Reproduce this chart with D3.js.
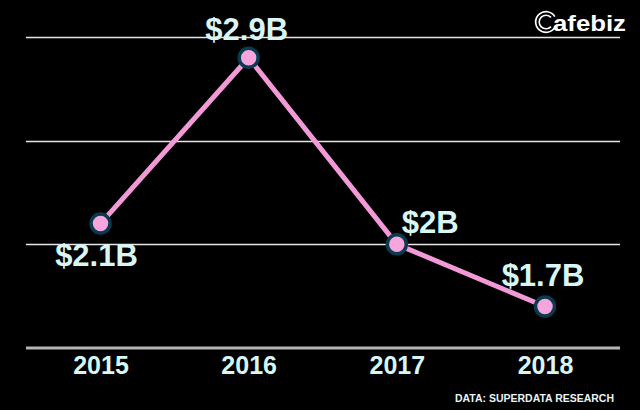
<!DOCTYPE html>
<html><head><meta charset="utf-8">
<script src="https://cdn.jsdelivr.net/npm/d3@7"></script>
<style>html,body{margin:0;padding:0;background:#000;}svg{display:block;}</style>
</head><body>
<script>
const years = ["2015","2016","2017","2018"];
const revenue = [2.1, 2.9, 2.0, 1.7];
const valueLabels = ["$2.1B","$2.9B","$2B","$1.7B"];
const gridTicks = [2.0, 2.5, 3.0];
const source = "DATA: SUPERDATA RESEARCH";
const brand = "afebiz";

const W = 640, H = 410;
const svg = d3.select("body").append("svg").attr("width", W).attr("height", H)
  .style("background", "#000");
svg.append("rect").attr("width", W).attr("height", H).attr("fill", "#000");

const x = d3.scalePoint().domain(years).range([100.5, 545]);
const y = d3.scaleLinear().domain([1.5, 3.0]).range([348, 37]);
const left = 26, right = 620;
const textColor = "#d8f6f6";
const font = "'Liberation Sans', Arial, sans-serif";

// gridlines
svg.append("g").selectAll("line").data(gridTicks).join("line")
  .attr("x1", left).attr("x2", right)
  .attr("y1", d => Math.round(y(d)) + 0.5).attr("y2", d => Math.round(y(d)) + 0.5)
  .attr("stroke", "#e6e6e6").attr("stroke-width", 1.3);

// baseline axis
const xAxis = d3.axisBottom(x).tickSize(0).tickPadding(0);
const gx = svg.append("g").attr("transform", `translate(0,${y(1.5)})`).call(xAxis);
gx.select(".domain").remove();
gx.append("line").attr("x1", left).attr("x2", right).attr("y1", 0).attr("y2", 0)
  .attr("stroke", "#b5b5b5").attr("stroke-width", 3);
gx.selectAll(".tick text")
  .attr("y", 26).attr("dy", null)
  .attr("fill", textColor).attr("font-family", font)
  .attr("font-weight", "bold").attr("font-size", 25);

// line
const data = years.map((yr, i) => ({yr, v: revenue[i], label: valueLabels[i]}));
svg.append("path").datum(data)
  .attr("d", d3.line().x(d => x(d.yr)).y(d => y(d.v)))
  .attr("fill", "none").attr("stroke", "#f29ad7").attr("stroke-width", 5)
  .attr("stroke-linejoin", "round");

// points
svg.append("g").selectAll("circle").data(data).join("circle")
  .attr("cx", d => x(d.yr)).attr("cy", d => y(d.v)).attr("r", 9.5)
  .attr("fill", "#f6a5dd").attr("stroke", "#0b3a4e").attr("stroke-width", 3.5);

// value labels
const offsets = [
  {dx: -4, dy: 42, anchor: "middle"},
  {dx: -2, dy: -18, anchor: "middle"},
  {dx: 5, dy: -11, anchor: "start"},
  {dx: -2, dy: -21, anchor: "middle"}
];
svg.append("g").selectAll("text").data(data).join("text")
  .attr("x", (d, i) => x(d.yr) + offsets[i].dx)
  .attr("y", (d, i) => y(d.v) + offsets[i].dy)
  .attr("text-anchor", (d, i) => offsets[i].anchor)
  .attr("fill", textColor).attr("font-family", font)
  .attr("font-weight", "bold").attr("font-size", 31)
  .text(d => d.label);

// source
svg.append("text").attr("x", 614).attr("y", 402).attr("text-anchor", "end")
  .attr("fill", "#e8f4f4").attr("font-family", font).attr("font-weight", "bold")
  .attr("font-size", 10.5).attr("textLength", 159).attr("lengthAdjust", "spacingAndGlyphs")
  .text(source);

// brand logo: ring "C" + text
const logo = svg.append("g");
logo.append("path").attr("transform", "translate(546,22)")
  .attr("d", d3.arc().startAngle(Math.PI * 0.5 + 0.55).endAngle(Math.PI * 2.5 - 0.55)
    .innerRadius(9.5).outerRadius(11.2)())
  .attr("fill", "#fff");
logo.append("path").attr("transform", "translate(546,22)")
  .attr("d", d3.arc().startAngle(Math.PI * 0.5 + 0.75).endAngle(Math.PI * 2.5 - 0.75)
    .innerRadius(6).outerRadius(7.6)())
  .attr("fill", "#fff");
logo.append("text").attr("x", 553).attr("y", 31)
  .attr("fill", "#fff").attr("font-family", font).attr("font-weight", "bold")
  .attr("font-size", 22).attr("textLength", 73).attr("lengthAdjust", "spacingAndGlyphs")
  .text(brand);
</script>
</body></html>
